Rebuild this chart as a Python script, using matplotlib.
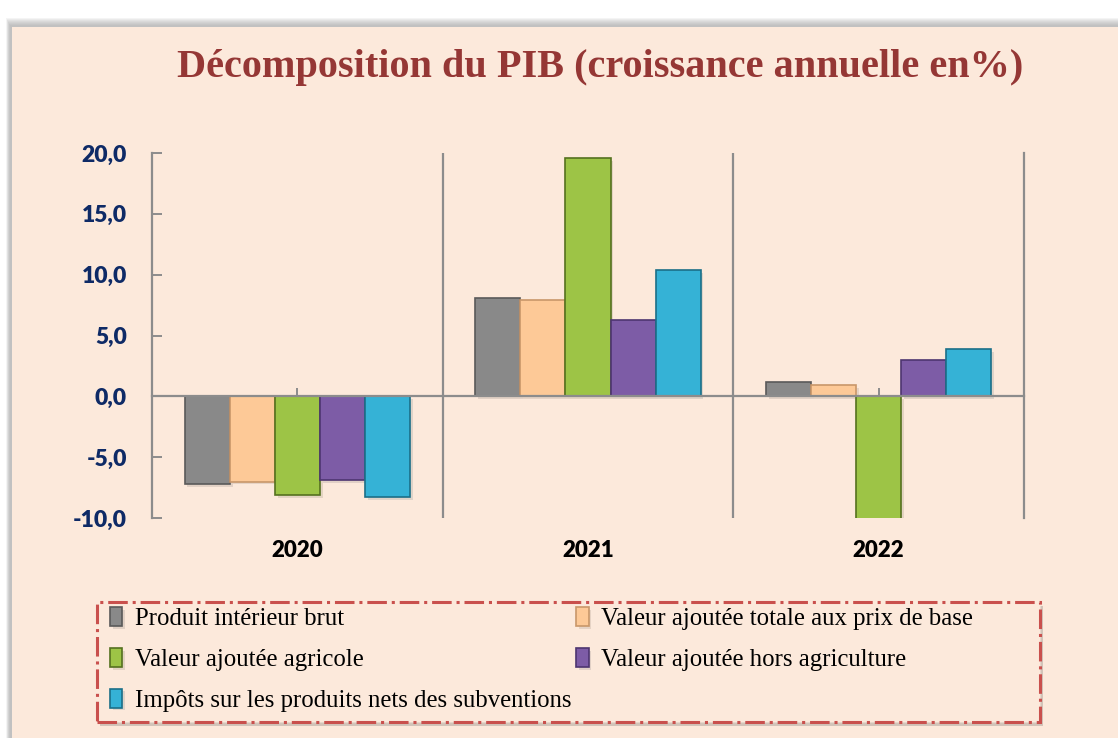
import matplotlib.pyplot as plt
import matplotlib.patheffects as pe
from matplotlib.patches import Rectangle
from matplotlib.transforms import blended_transform_factory
import numpy as np

# values
years = ['2020', '2021', '2022']
series_names = [
    'Produit intérieur brut',
    'Valeur ajoutée totale aux prix de base',
    'Valeur ajoutée agricole',
    'Valeur ajoutée hors agriculture',
    'Impôts sur les produits nets des subventions',
]
pib = [-7.2, 8.1, 1.2]
va_totale = [-7.0, 7.9, 0.9]
va_agricole = [-8.1, 19.6, -12.9]
va_hors_agri = [-6.9, 6.3, 3.0]
impots = [-8.3, 10.4, 3.9]

series = [pib, va_totale, va_agricole, va_hors_agri, impots]
colors = ['#898989', '#FDC997', '#9DC446', '#7D5CA6', '#35B2D6']
edges = ['#5A5A5A', '#C9976A', '#55711F', '#4D3570', '#1B6F88']

BG = '#FCE9DB'

fig = plt.figure(figsize=(11.18, 7.38), dpi=100)
fig.patch.set_facecolor('white')

# panel background with a soft shadow on top / left
W, H = 1118.0, 738.0
for k in range(8):
    fig.patches.append(Rectangle((6 / W + k * 0.0005, 0), 1, 1 - (18 + k) / H,
                                 transform=fig.transFigure, facecolor='#9A9A9A',
                                 alpha=0.10, edgecolor='none', zorder=-3))
fig.patches.append(Rectangle((12 / W, 0), 1, 1 - 27 / H, transform=fig.transFigure,
                             facecolor=BG, edgecolor='none', zorder=-2))

ax = fig.add_axes([152 / W, 1 - 518 / H, (1024 - 152) / W, (518 - 153) / H])
ax.set_facecolor('none')

x = np.arange(len(years))
bw = 0.155
for i, (vals, name) in enumerate(zip(series, series_names)):
    ax.bar(x + (i - 2) * bw, vals, width=bw, color=colors[i], edgecolor=edges[i],
           linewidth=1.2, label=name, zorder=2,
           path_effects=[pe.SimplePatchShadow(offset=(2, -2), alpha=0.12), pe.Normal()])

ax.set_xlim(-0.5, 2.5)
ax.set_ylim(-10, 20)

grey = '#8C8C8C'
for s in ['left', 'right', 'bottom']:
    ax.spines[s].set_color(grey)
    ax.spines[s].set_linewidth(1.6)
ax.spines['top'].set_visible(False)
ax.spines['bottom'].set_position(('data', 0))
ax.spines['bottom'].set_zorder(3)
for xv in [0.5, 1.5]:
    ax.axvline(xv, color=grey, lw=1.6, zorder=1)

ax.set_yticks(np.arange(-10, 21, 5))
ax.set_yticklabels([f'{v:.1f}'.replace('.', ',') for v in np.arange(-10, 21, 5)])
ax.tick_params(axis='y', direction='in', length=7, color=grey, width=1.4, pad=18,
               labelsize=16.5, labelcolor='#0E2A66')
for lab in ax.get_yticklabels():
    lab.set_fontweight('heavy')
    lab.set_fontfamily('Lato')

ax.set_xticks(x)
ax.tick_params(axis='x', direction='in', length=6, color=grey, width=1.4,
               labelbottom=False)

trans = blended_transform_factory(ax.transData, ax.transAxes)
for xi, yr in zip(x, years):
    ax.text(xi, -0.09, yr, transform=trans, ha='center', va='center',
            fontsize=16, fontweight='heavy', family='Lato', color='black')

fig.text(600 / W, 1 - 68 / H, 'Décomposition du PIB (croissance annuelle en%)',
         ha='center', va='center', fontsize=29, fontweight='bold',
         family='Liberation Serif', color='#953735')

# legend box
fig.patches.append(Rectangle((100 / W, 1 - 726 / H), (1040 - 97) / W, (722 - 602) / H,
                             transform=fig.transFigure, facecolor='#A09890', alpha=0.45,
                             edgecolor='none', zorder=2))
box = Rectangle((97 / W, 1 - 722 / H), (1040 - 97) / W, (722 - 602) / H,
                transform=fig.transFigure, facecolor=BG, edgecolor='#C9504D',
                linewidth=2.2, linestyle='-.', zorder=3)
fig.patches.append(box)

handles, labels = ax.get_legend_handles_labels()
order = [0, 2, 4, 1, 3]
leg = fig.legend([handles[i] for i in order], [labels[i] for i in order],
                 loc='upper left', bbox_to_anchor=(110 / W, 1 - 607 / H),
                 ncol=2, frameon=False, handlelength=0.5, handleheight=0.8,
                 handletextpad=0.5, labelspacing=0.72, columnspacing=0.2,
                 borderpad=0, borderaxespad=0,
                 prop={'family': 'Liberation Serif', 'size': 17.8})
leg.set_zorder(5)

fig.savefig('out.png', dpi=100, facecolor=fig.get_facecolor())
